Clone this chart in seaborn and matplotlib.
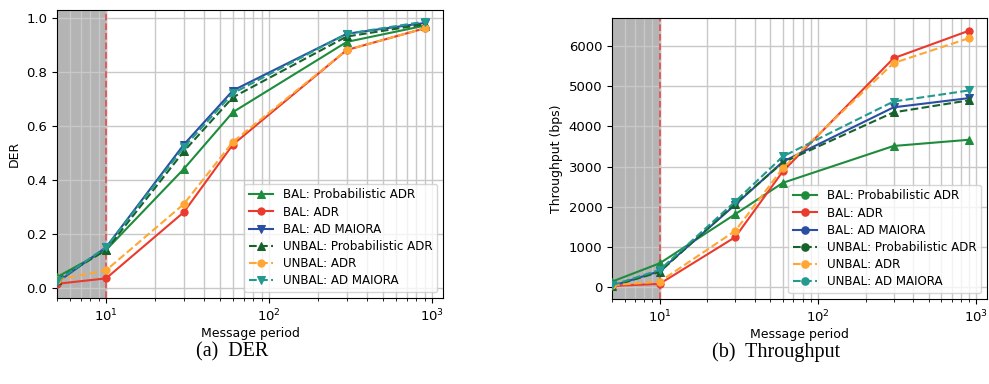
import numpy as np
import pandas as pd
import matplotlib
matplotlib.use("Agg")
import matplotlib.pyplot as plt
from matplotlib.lines import Line2D
import seaborn as sns

periods = [5, 10, 30, 60, 300, 900]
labels = ["BAL: Probabilistic ADR", "BAL: ADR", "BAL: AD MAIORA",
          "UNBAL: Probabilistic ADR", "UNBAL: ADR", "UNBAL: AD MAIORA"]

der_bal_prob = [0.040, 0.140, 0.440, 0.650, 0.910, 0.970]
der_bal_adr = [0.015, 0.035, 0.280, 0.530, 0.880, 0.960]
der_bal_maiora = [0.020, 0.150, 0.530, 0.730, 0.940, 0.980]
der_unbal_prob = [0.030, 0.140, 0.505, 0.705, 0.930, 0.975]
der_unbal_adr = [0.030, 0.065, 0.310, 0.540, 0.880, 0.960]
der_unbal_maiora = [0.025, 0.150, 0.520, 0.720, 0.940, 0.985]

thr_bal_prob = [140, 595, 1815, 2595, 3510, 3665]
thr_bal_adr = [30, 85, 1245, 2880, 5690, 6375]
thr_bal_maiora = [30, 400, 2050, 3120, 4470, 4700]
thr_unbal_prob = [30, 380, 2080, 3100, 4345, 4645]
thr_unbal_adr = [50, 140, 1400, 2960, 5570, 6190]
thr_unbal_maiora = [50, 430, 2130, 3250, 4615, 4890]

colors = ["#1e8c3c", "#ea3a2e", "#2a4ea2", "#17622b", "#ffa634", "#23998f"]
dashes = ["-", "-", "-", "--", "--", "--"]
markers = ["^", "o", "v", "^", "o", "v"]

der_series = [der_bal_prob, der_bal_adr, der_bal_maiora,
              der_unbal_prob, der_unbal_adr, der_unbal_maiora]
thr_series = [thr_bal_prob, thr_bal_adr, thr_bal_maiora,
              thr_unbal_prob, thr_unbal_adr, thr_unbal_maiora]

plt.rcParams["font.family"] = ["DejaVu Sans"]
fig = plt.figure(figsize=(9.89, 3.84), dpi=100)
ax1 = fig.add_axes([57/989, 1-298/384, 386/989, 288/384])
ax2 = fig.add_axes([612/989, 1-299/384, 375/989, 281/384])

MS = 5.2


def draw(ax, series, ylabel, legend_marker=None):
    for lab, ys, c, ls, m in zip(labels, series, colors, dashes, markers):
        df = pd.DataFrame({"x": periods, "y": ys})
        sns.lineplot(data=df, x="x", y="y", ax=ax, color=c, linestyle=ls,
                     marker=m, markersize=MS, markeredgecolor=c,
                     linewidth=1.5, label=lab, zorder=3)
    ax.set_xscale("log")
    ax.axvspan(5, 10, color="#b4b4b4", zorder=0.5)
    ax.axvline(10, color="#e05555", linestyle="--", linewidth=1.3, zorder=2.5)
    ax.grid(True, which="major", color="#c8c8c8", linewidth=1.0)
    ax.xaxis.grid(True, which="minor", color="#c8c8c8", linewidth=1.0)
    for gl in ax.get_xgridlines() + ax.get_ygridlines():
        gl.set_zorder(1)
    ax.set_xlabel("Message period", fontsize=9, labelpad=2)
    ax.set_ylabel(ylabel, fontsize=9)
    ax.tick_params(labelsize=9.5)
    if legend_marker is None:
        ax.legend(loc="lower right", fontsize=8.6, framealpha=0.8,
                  borderpad=0.4, labelspacing=0.35, handlelength=2.0)
    else:
        handles = [Line2D([], [], color=c, linestyle=ls, marker=legend_marker,
                          markersize=MS, linewidth=1.5)
                   for c, ls in zip(colors, dashes)]
        ax.legend(handles, labels, loc="lower right", fontsize=8.6,
                  framealpha=0.8, borderpad=0.4, labelspacing=0.35,
                  handlelength=2.0)


draw(ax1, der_series, "DER")
ax1.set_xlim(5, 1168)
ax1.set_ylim(-0.0375, 1.028)
ax1.set_yticks([0.0, 0.2, 0.4, 0.6, 0.8, 1.0])

draw(ax2, thr_series, "Throughput (bps)", legend_marker="o")
ax2.set_xlim(5, 1168)
ax2.set_ylim(-292, 6690)
ax2.set_yticks([0, 1000, 2000, 3000, 4000, 5000, 6000])

fig.text(232/989, 1-352/384, "(a)  DER", ha="center", va="center",
         fontsize=14.5, family=["Liberation Serif"])
fig.text(776/989, 1-352/384, "(b)  Throughput", ha="center", va="center",
         fontsize=14.5, family=["Liberation Serif"])

fig.savefig("out.png", dpi=100)
